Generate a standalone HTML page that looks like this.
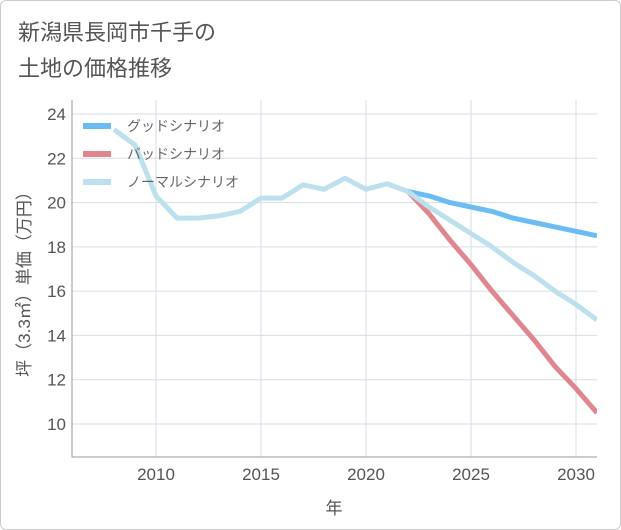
<!DOCTYPE html>
<html><head><meta charset="utf-8">
<style>
body{margin:0;background:#fff;font-family:"Liberation Sans","Noto Sans CJK JP",sans-serif;}
#wrap{position:relative;width:619px;height:528px;border:1px solid #ccc;border-radius:6px;overflow:hidden;background:#fff}
</style></head>
<body>
<div id="wrap">
<svg id="chart" width="621" height="530" style="position:absolute;left:-1px;top:-1px">
<text x="18" y="40" font-size="22" fill="#555">新潟県長岡市千手の</text>
<text x="18" y="76" font-size="22" fill="#555">土地の価格推移</text>
</svg>
</div>
<script>
const years=[2008,2009,2010,2011,2012,2013,2014,2015,2016,2017,2018,2019,2020,2021,2022];
const history=[23.3,22.6,20.3,19.3,19.3,19.4,19.6,20.2,20.2,20.8,20.6,21.1,20.6,20.85,20.5];
const futureYears=[2022,2023,2024,2025,2026,2027,2028,2029,2030,2031];
const goodVals=[20.5,20.3,20.0,19.8,19.6,19.3,19.1,18.9,18.7,18.5];
const badVals=[20.5,19.5,18.3,17.2,16.0,14.9,13.8,12.6,11.6,10.5];
const normalVals=[20.5,19.8,19.2,18.6,18.0,17.3,16.7,16.0,15.4,14.7];
const yTicks=[10,12,14,16,18,20,22,24];
const xTicks=[2010,2015,2020,2025,2030];
const legendLabels=["グッドシナリオ","バッドシナリオ","ノーマルシナリオ"];
const colors=["#6bbcf2","#e0868e","#bde0ee"];

const NS="http://www.w3.org/2000/svg";
const svg=document.getElementById('chart');
const L=72,R=597,T=100,B=457;
const xS=v=>L+(v-2006)*(R-L)/25;
const yS=v=>424-(v-10)*(424-114)/14;
function el(t,a){const e=document.createElementNS(NS,t);for(const k in a)e.setAttribute(k,a[k]);svg.appendChild(e);return e;}
const clip=el('clipPath',{id:'pc'});
const cr=document.createElementNS(NS,'rect');cr.setAttribute('x',L);cr.setAttribute('y',T);cr.setAttribute('width',R-L);cr.setAttribute('height',B-T);clip.appendChild(cr);
yTicks.forEach(v=>{
  const g=el('line',{x1:L,x2:R,y1:yS(v),y2:yS(v),stroke:'#d5dde6','stroke-width':1});
  
  const t=el('text',{x:L-6,y:yS(v)+6,'text-anchor':'end','font-size':17,fill:'#555'});t.textContent=v;
  
});
xTicks.forEach(v=>{
  const g=el('line',{x1:xS(v),x2:xS(v),y1:T,y2:B,stroke:'#d5dde6','stroke-width':1});
  
  const t=el('text',{x:xS(v),y:B+23,'text-anchor':'middle','font-size':17,fill:'#555'});t.textContent=v;
  
});
const ax=el('path',{d:`M${L},${T} V${B} H${R}`,fill:'none',stroke:'#999','stroke-width':1});

function line(xs,ys,c,name){
  const d=xs.map((x,i)=>(i?'L':'M')+xS(x)+','+yS(ys[i])).join(' ');
  const p=el('path',{d:d,fill:'none',stroke:c,'stroke-width':5,'stroke-linejoin':'round','clip-path':'url(#pc)'});
  
}
line(futureYears,goodVals,colors[0],'good-scenario-line');
line(futureYears,badVals,colors[1],'bad-scenario-line');
line(futureYears,normalVals,colors[2],'normal-scenario-line');
line(years,history,colors[2],'history-line');
legendLabels.forEach((s,i)=>{
  const y=126+i*28;
  const l=el('line',{x1:83,x2:111,y1:y,y2:y,stroke:colors[i],'stroke-width':6});
  
  const t=el('text',{x:127,y:y+5,'font-size':14,fill:'#666'});t.textContent=s;
  
});
const xt=el('text',{x:334,y:514,'text-anchor':'middle','font-size':17,fill:'#555'});xt.textContent='年';

const yt=el('text',{x:0,y:0,'text-anchor':'middle','font-size':17,fill:'#555',transform:'translate(30,280) rotate(-90)'});yt.textContent='坪（3.3㎡）単価（万円）';

</script>
</body></html>
